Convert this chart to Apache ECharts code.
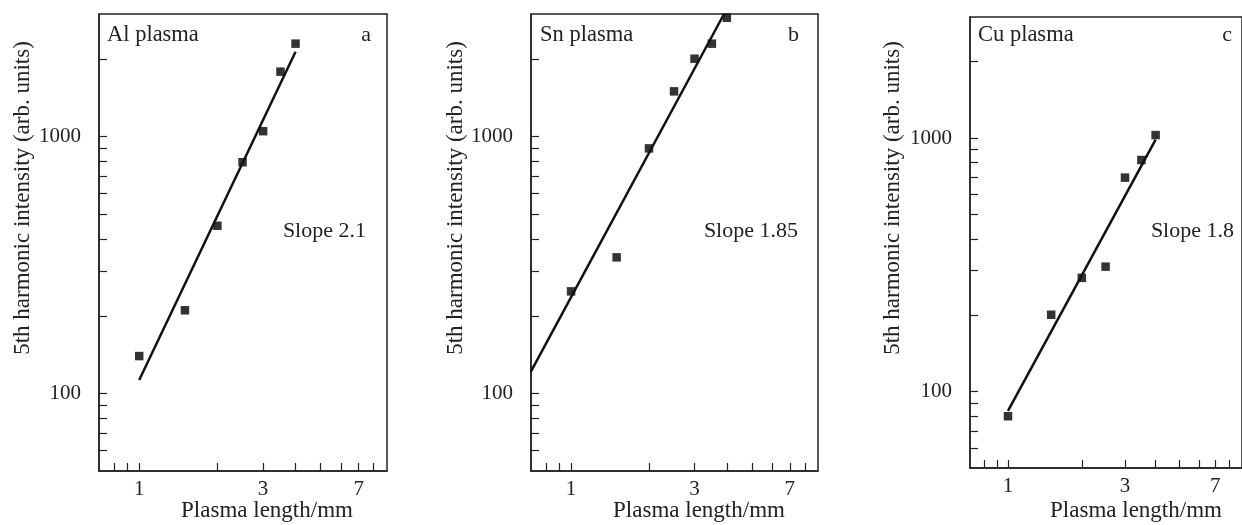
<!DOCTYPE html>
<html>
<head>
<meta charset="utf-8">
<script src="https://cdn.jsdelivr.net/npm/echarts@6/dist/echarts.min.js"></script>
<style>html,body{margin:0;padding:0;background:#fff;}#c{width:1242px;height:525px;}</style>
</head>
<body>
<div id="c"></div>
<script>
// ---- data ----
const plasmaLength = [1, 1.5, 2, 2.5, 3, 3.5, 4];
const alIntensity = [140, 211, 450, 795, 1050, 1790, 2300];
const snIntensity = [250, 339, 900, 1500, 2010, 2300, 2900];
const cuIntensity = [80, 201, 281, 311, 698, 819, 1027];
const alFitX = [1, 4], alFitY = [113, 2140];
const snFitX = [0.7, 3.9], snFitY = [122, 3000];
const cuFitX = [1, 4], cuFitY = [84, 985];
const xTickValues = [0.8, 0.9, 1, 2, 3, 4, 5, 6, 7, 8];
const xLabelValues = [1, 3, 7];
const yTickValues = [60, 70, 80, 90, 100, 200, 300, 400, 500, 600, 700, 800, 900, 1000, 2000];
const yLabelValues = [100, 1000];
const panelNames = ['Al plasma', 'Sn plasma', 'Cu plasma'];
const panelLetters = ['a', 'b', 'c'];
const slopeTexts = ['Slope 2.1', 'Slope 1.85', 'Slope 1.8'];
const xTitle = 'Plasma length/mm';
const yTitle = '5th harmonic intensity (arb. units)';

const FONT = '"Liberation Serif","Times New Roman",serif';
const INK = '#222';
const grids = [
  {left: 99, top: 14, width: 288, height: 457},
  {left: 531, top: 14, width: 287, height: 457},
  {left: 970, top: 17, width: 281, height: 451}
];
const pairs = (xs, ys) => xs.map((x, i) => [x, ys[i]]);
const seriesData = [alIntensity, snIntensity, cuIntensity];
const fits = [[alFitX, alFitY], [snFitX, snFitY], [cuFitX, cuFitY]];

const option = {
  animation: false,
  backgroundColor: '#fff',
  grid: grids.map(g => Object.assign({show: true, borderColor: INK, borderWidth: 1.5, backgroundColor: 'transparent'}, g)),
  xAxis: grids.map((g, i) => ({
    type: 'log', gridIndex: i, min: 0.7, max: 9, logBase: 10,
    axisLine: {show: true, lineStyle: {color: INK, width: 1.5}},
    axisTick: {show: true, inside: true, length: 8, customValues: xTickValues, lineStyle: {color: INK, width: 1.2}},
    minorTick: {show: false},
    splitLine: {show: false},
    axisLabel: {customValues: xLabelValues, margin: 8, color: INK, fontFamily: FONT, fontSize: 21, formatter: v => String(v)}
  })),
  yAxis: grids.map((g, i) => ({
    type: 'log', gridIndex: i, min: 50, max: 3000, logBase: 10,
    axisLine: {show: true, lineStyle: {color: INK, width: 1.5}},
    axisTick: {show: true, inside: true, length: 8, customValues: yTickValues, lineStyle: {color: INK, width: 1.2}},
    minorTick: {show: false},
    splitLine: {show: false},
    axisLabel: {customValues: yLabelValues, margin: 18, color: INK, fontFamily: FONT, fontSize: 21, formatter: v => String(v)}
  })),
  series: [].concat(
    seriesData.map((ys, i) => ({
      type: 'line', xAxisIndex: i, yAxisIndex: i,
      data: pairs(fits[i][0], fits[i][1]),
      showSymbol: false, symbol: 'none', clip: true, silent: true,
      lineStyle: {color: '#111', width: 2.5}
    })),
    seriesData.map((ys, i) => ({
      type: 'scatter', xAxisIndex: i, yAxisIndex: i,
      data: pairs(plasmaLength, ys),
      symbol: 'rect', symbolSize: 8.5, clip: false,
      itemStyle: {color: '#000'}
    }))
  ),
  graphic: []
};

const txt = (x, y, text, align, size, extra) => Object.assign({
  type: 'text', x: x, y: y, silent: true,
  style: {text: text, fill: INK, font: size + 'px ' + FONT, textAlign: align, align: align, textVerticalAlign: 'middle', verticalAlign: 'middle'}
}, extra || {});

const nameX = [107, 540, 978];
const letterX = [371, 799, 1232];
const slopeX = [366, 798, 1234];
const xTitleCx = [267, 699, 1136];
const yTitleCx = [23, 456, 893];
for (let i = 0; i < 3; i++) {
  option.graphic.push(txt(nameX[i], 35, panelNames[i], 'left', 22.5));
  option.graphic.push(txt(letterX[i], 35, panelLetters[i], 'right', 22));
  option.graphic.push(txt(slopeX[i], 231, slopeTexts[i], 'right', 22));
  option.graphic.push(txt(xTitleCx[i], 511, xTitle, 'center', 23));
  option.graphic.push(txt(yTitleCx[i], 198, yTitle, 'center', 23, {rotation: Math.PI / 2}));
}

const chart = echarts.init(document.getElementById('c'), null, {renderer: 'canvas'});
chart.setOption(option);
</script>
</body>
</html>
